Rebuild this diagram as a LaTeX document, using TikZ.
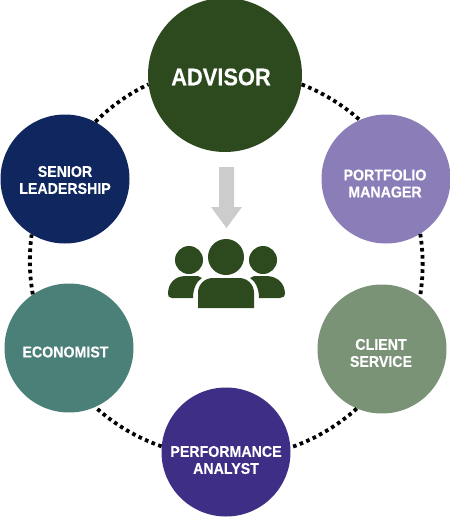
\documentclass[tikz,border=0pt]{standalone}
\usepackage{fontspec}
\setmainfont[FakeStretch=0.91,BoldFeatures={FakeBold=0.25}]{Liberation Sans}
\definecolor{advc}{HTML}{2C4A1E}
\definecolor{senc}{HTML}{10265F}
\definecolor{porc}{HTML}{8B7DB8}
\definecolor{cliC}{HTML}{7A9276}
\definecolor{ecoc}{HTML}{4A8078}
\definecolor{perc}{HTML}{3F2E85}
\definecolor{arrc}{HTML}{CCCCCC}
\tikzset{
 role/.style={circle,inner sep=0pt,minimum size=129pt},
 rolelabel/.style={inner sep=0pt,text=white,align=center,font=\bfseries\fontsize{15.6}{17}\selectfont},
 ring/.style={line width=3.8pt,black,dash pattern=on 3.6pt off 3.5pt},
 icon/.style={fill=advc,draw=none},
}
\begin{document}
\begin{tikzpicture}[x=1pt,y=-1pt]
\useasboundingbox (0,0) rectangle (450,517);
\node[role,fill=advc,minimum size=154pt,label={[rolelabel,font=\bfseries\fontsize{24}{26}\selectfont,xshift=-4pt,yshift=-2pt]center:ADVISOR}] (adv) at (225,75) {};
\node[role,fill=senc,label={[rolelabel,yshift=-1pt]center:{SENIOR\\LEADERSHIP}}] (sen) at (65,179) {};
\node[role,fill=porc,label={[rolelabel,xshift=-1pt,yshift=-4.5pt]center:{PORTFOLIO\\MANAGER}}] (por) at (386,179) {};
\node[role,fill=cliC,label={[rolelabel,xshift=-1pt,yshift=-4pt]center:{CLIENT\\SERVICE}}] (cli) at (382,349) {};
\node[role,fill=ecoc,label={[rolelabel,xshift=-3.5pt,yshift=-4pt]center:ECONOMIST}] (eco) at (69,348) {};
\node[role,fill=perc,label={[rolelabel,yshift=-8pt]center:{PERFORMANCE\\ANALYST}}] (per) at (226,452) {};
\draw[ring] (adv.-7.4) to[bend left=10,looseness=0.86] (por.114.5);
\draw[ring] (por.-58) to[bend left=9,looseness=0.86] (cli.54);
\draw[ring] (cli.247) to[bend left=11.5,looseness=0.86] (per.4.5);
\draw[ring] (per.175.5) to[bend left=11.5,looseness=0.86] (eco.-66.6);
\draw[ring] (eco.124) to[bend left=9,looseness=0.86] (sen.239.5);
\draw[ring] (sen.62) to[bend left=10,looseness=0.86] (adv.187.6);
\fill[arrc] (219,167) -- (234,167) -- (234,207) -- (242,207) -- (226.5,228) -- (211,207) -- (219,207) -- cycle;
\fill[icon] (226,257) circle[radius=18];
\fill[icon] (189,260) circle[radius=14];
\fill[icon] (263,260) circle[radius=14];
\fill[icon] (198,308) -- (198,293) .. controls (198,284) and (205,278) .. (213,278) -- (239,278) .. controls (247,278) and (254,284) .. (254,293) -- (254,308) -- cycle;
\fill[icon] (193,298) -- (172,298) .. controls (169,298) and (168,296) .. (168,294) .. controls (168,283) and (175,276) .. (186,276) -- (194,276) .. controls (197,276) and (200,276) .. (202,278) .. controls (197,281) and (193,288) .. (193,298) -- cycle;
\fill[icon] (259,298) -- (280,298) .. controls (283,298) and (285,296) .. (285,294) .. controls (285,283) and (277,276) .. (266,276) -- (258,276) .. controls (255,276) and (252,276) .. (250,278) .. controls (255,281) and (259,288) .. (259,298) -- cycle;
\end{tikzpicture}
\end{document}
